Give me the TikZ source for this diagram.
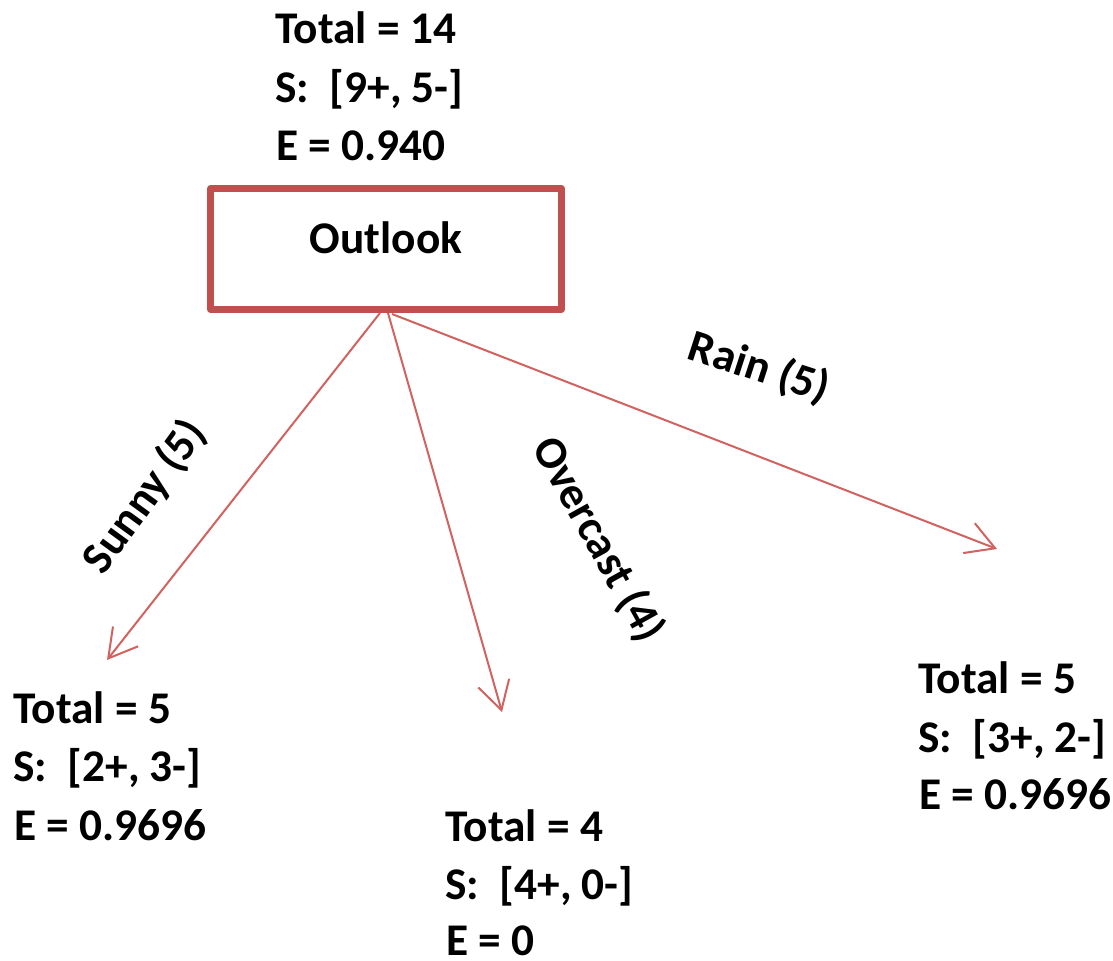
\documentclass[tikz,border=0pt]{standalone}
\usepackage{fontspec}
\setmainfont{Carlito}
\usetikzlibrary{arrows.meta}
\definecolor{boxred}{HTML}{C0504D}
\definecolor{linkred}{HTML}{D0625F}
\tikzset{
  txt/.style={anchor=base west, inner sep=0pt, font=\fontsize{34pt}{40pt}\selectfont\bfseries},
  branchlbl/.style={anchor=center, inner sep=0pt, font=\fontsize{34pt}{40pt}\selectfont\bfseries},
  attrbox/.style={draw=boxred, line width=4.9pt, line join=round, rectangle, inner sep=0pt,
    minimum width=263pt, minimum height=91pt},
  branch/.style={draw=linkred, line width=1.5pt,
    -{Straight Barb[length=21pt, width=24pt, line width=1.5pt]}}
}
\begin{document}
\begin{tikzpicture}[x=0.75pt, y=-0.75pt]
\useasboundingbox (0,0) rectangle (1113,960);

% root node and its statistics
\node[attrbox] (outlook) at (386,249) {};
\node[anchor=base, inner sep=0pt, font=\fontsize{34pt}{40pt}\selectfont\bfseries] (outlooklbl) at (386,253) {Outlook};
\node[txt] (r1) at (275,43) {Total = 14};
\node[txt] (r2) at (275,102) {S:\ \ [9+, 5-]};
\node[txt] (r3) at (276,160) {E = 0.940};

% left child: Sunny
\node[txt] (s1) at (13,723) {Total = 5};
\node[txt] (s2) at (13,781) {S:\ \ [2+, 3-]};
\node[txt] (s3) at (14,840) {E = 0.9696};

% middle child: Overcast
\node[txt] (o1) at (445,841) {Total = 4};
\node[txt] (o2) at (445,899) {S:\ \ [4+, 0-]};
\node[txt] (o3) at (446,955) {E = 0};

% right child: Rain
\node[txt] (n1) at (918,693) {Total = 5};
\node[txt] (n2) at (918,752) {S:\ \ [3+, 2-]};
\node[txt] (n3) at (919,809) {E = 0.9696};

% branch ends
\coordinate (sunnyfrom) at (380,313);
\coordinate (overfrom) at (388,313);
\coordinate (rainfrom) at (392,314);
\coordinate (sunnyto) at (107,660);
\coordinate (overto) at (502,712);
\coordinate (rainto) at (997,549);

\draw[branch] (sunnyfrom) -- (sunnyto);
\draw[branch] (overfrom) -- (overto);
\draw[branch] (rainfrom) -- (rainto);

% branch labels
\node[branchlbl, rotate=54] (sunnylbl) at (145,497) {Sunny (5)};
\node[branchlbl, rotate=-61] (overlbl) at (598,540) {Overcast (4)};
\node[branchlbl, rotate=-18] (rainlbl) at (759,368) {Rain (5)};
\end{tikzpicture}
\end{document}
